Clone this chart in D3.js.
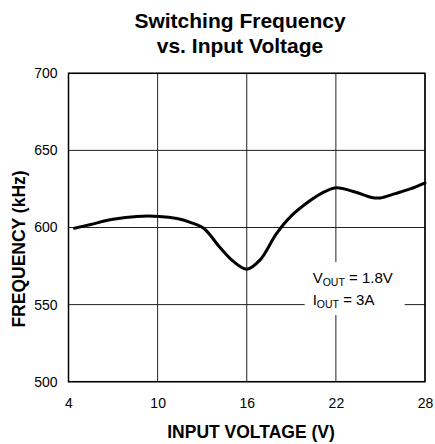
<!DOCTYPE html>
<html>
<head>
<meta charset="utf-8">
<script src="https://cdn.jsdelivr.net/npm/d3@7"></script>
<style>
  body { margin: 0; background: #fff; }
  svg { font-family: "Liberation Sans", Arial, sans-serif; }
</style>
</head>
<body>
<div id="chart"></div>
<script>
// data
const inputVoltage = [4.4, 5.5, 7.0, 8.6, 10.1, 11.3, 12.2, 13.1, 14.2, 15.1, 16.0, 16.9, 18.0, 19.0, 20.2, 21.0, 22.0, 23.3, 24.4, 25.0, 26.0, 27.0, 28.0];
const frequency = [599.5, 602, 605.3, 607.2, 607.2, 605.8, 603.3, 599.5, 587, 578, 573, 579, 596, 607.5, 617, 622, 625.8, 623, 619.5, 619.2, 622, 625, 629];
const xTicks = [4, 10, 16, 22, 28];
const yTicks = [500, 550, 600, 650, 700];
const titleLines = ["Switching Frequency", "vs. Input Voltage"];

const dims = {
  width: 435,
  height: 444,
  margin: { left: 68.5, right: 10, top: 73.3, bottom: 62.3 },
};
dims.ctrWidth = dims.width - dims.margin.left - dims.margin.right;
dims.ctrHeight = dims.height - dims.margin.top - dims.margin.bottom;

const svg = d3.select("#chart")
  .append("svg")
  .attr("width", dims.width)
  .attr("height", dims.height);

const ctr = svg.append("g")
  .attr("transform", `translate(${dims.margin.left},${dims.margin.top})`);

const xScale = d3.scaleLinear().domain([4, 28]).range([0, dims.ctrWidth]);
const yScale = d3.scaleLinear().domain([500, 700]).range([dims.ctrHeight, 0]);

// grid
ctr.append("g")
  .selectAll("line")
  .data(xTicks)
  .join("line")
  .attr("x1", d => xScale(d)).attr("x2", d => xScale(d))
  .attr("y1", 0).attr("y2", dims.ctrHeight)
  .attr("stroke", "#222").attr("stroke-width", 1);

ctr.append("g")
  .selectAll("line")
  .data(yTicks)
  .join("line")
  .attr("x1", 0).attr("x2", dims.ctrWidth)
  .attr("y1", d => yScale(d)).attr("y2", d => yScale(d))
  .attr("stroke", "#222").attr("stroke-width", 1);

// tick labels
const xAxis = d3.axisBottom(xScale).tickValues(xTicks).tickSize(0).tickPadding(16);
ctr.append("g")
  .attr("transform", `translate(0,${dims.ctrHeight})`)
  .call(xAxis)
  .call(g => g.select(".domain").remove())
  .selectAll("text")
  .attr("font-size", 14)
  .attr("font-family", "Liberation Sans, Arial, sans-serif")
  .attr("fill", "#000");

const yAxis = d3.axisLeft(yScale).tickValues(yTicks).tickSize(0).tickPadding(11);
ctr.append("g")
  .call(yAxis)
  .call(g => g.select(".domain").remove())
  .selectAll("text")
  .attr("font-size", 14)
  .attr("font-family", "Liberation Sans, Arial, sans-serif")
  .attr("fill", "#000");

// annotation box (blanks the grid behind it)
const note = ctr.append("g")
  .attr("transform", `translate(${xScale(19.9)},${yScale(577.6)})`);
note.append("rect")
  .attr("x", 0).attr("y", 0)
  .attr("width", 100).attr("height", 53)
  .attr("fill", "#fff");

const noteLines = [
  { main: "V", sub: "OUT", rest: " = 1.8V", dy: 21 },
  { main: "I", sub: "OUT", rest: " = 3A", dy: 43 },
];
noteLines.forEach(l => {
  const t = note.append("text")
    .attr("x", 8)
    .attr("y", l.dy)
    .attr("font-size", 15)
    .attr("fill", "#000");
  t.append("tspan").text(l.main);
  t.append("tspan").text(l.sub).attr("font-size", 10.5).attr("dy", 3);
  t.append("tspan").text(l.rest).attr("dy", -3);
});

// border
ctr.append("rect")
  .attr("width", dims.ctrWidth)
  .attr("height", dims.ctrHeight)
  .attr("fill", "none")
  .attr("stroke", "#000")
  .attr("stroke-width", 1.5);

// curve
const points = inputVoltage.map((v, i) => [v, frequency[i]]);
const line = d3.line()
  .x(d => xScale(d[0]))
  .y(d => yScale(d[1]))
  .curve(d3.curveCatmullRom.alpha(0.5));

ctr.append("path")
  .datum(points)
  .attr("d", line)
  .attr("fill", "none")
  .attr("stroke", "#000")
  .attr("stroke-width", 3)
  .attr("stroke-linejoin", "round")
  .attr("stroke-linecap", "round");

// titles
svg.append("text")
  .attr("x", 240)
  .attr("y", 28)
  .attr("text-anchor", "middle")
  .attr("font-size", 21)
  .attr("font-weight", "bold")
  .selectAll("tspan")
  .data(titleLines)
  .join("tspan")
  .attr("x", 240)
  .attr("dy", (d, i) => i === 0 ? 0 : 25)
  .text(d => d);

svg.append("text")
  .attr("x", 251)
  .attr("y", 438)
  .attr("text-anchor", "middle")
  .attr("font-size", 17.5)
  .attr("font-weight", "bold")
  .text("INPUT VOLTAGE (V)");

svg.append("text")
  .attr("transform", "translate(25,249) rotate(-90)")
  .attr("text-anchor", "middle")
  .attr("font-size", 17.5)
  .attr("font-weight", "bold")
  .text("FREQUENCY (kHz)");
</script>
</body>
</html>
